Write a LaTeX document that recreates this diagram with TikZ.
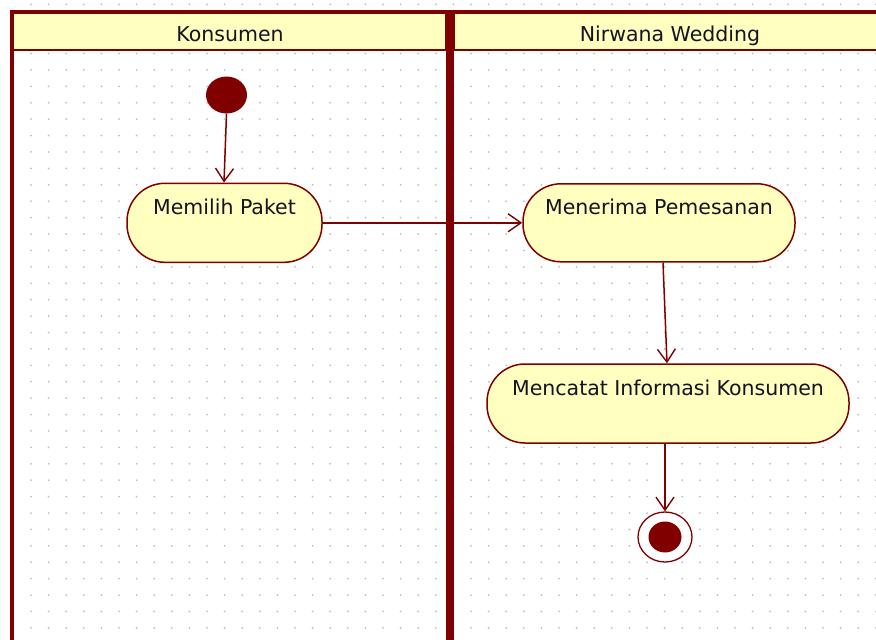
\documentclass[tikz,border=0pt]{standalone}
\usepackage{fontspec}
\setmainfont{DejaVu Sans}
\usetikzlibrary{arrows.meta,shapes.geometric}
\definecolor{lanered}{HTML}{800000}
\definecolor{actfill}{HTML}{FFFFC0}
\definecolor{dotgray}{HTML}{BDBDBD}
\definecolor{txt}{HTML}{141420}
\tikzset{
  x=1pt, y=-1pt,
  txtstyle/.style={font=\fontsize{20.5}{24}\selectfont, text=txt},
  act/.style={draw=lanered, line width=1.5pt, fill=actfill, rectangle, rounded corners=38pt, inner sep=0pt},
  lbl/.style={txtstyle, yshift=16pt},
  flow/.style={draw=lanered, line width=1.5pt, -{Straight Barb[length=13pt,width=18pt,line width=1.4pt]}},
  lanehead/.style={fill=actfill, draw=lanered, line width=1.5pt},
}
\begin{document}
\begin{tikzpicture}
\useasboundingbox (0,0) rectangle (876,640);
\fill[white] (0,0) rectangle (876,640);
% dot grid
\foreach \i in {0,...,48} {
  \foreach \j in {0,...,38} {
    \fill[dotgray] ({31+17.6*\i},{4.3+16.41*\j}) circle (1pt);
  }
}
% lane headers
\path[lanehead] (12,12) rectangle (446,50);
\path[lanehead] (454,12) rectangle (890,50);
\node[txtstyle, anchor=base] (h1) at (230,41) {Konsumen};
\node[txtstyle, anchor=base] (h2) at (670,41) {Nirwana Wedding};
% lane borders
\fill[lanered] (10,10) rectangle (14,650);
\fill[lanered] (10,10) rectangle (890,13.5);
\fill[lanered] (446,10) rectangle (454,650);
\draw[lanered, line width=2pt] (14,50) -- (446,50);
\draw[lanered, line width=2pt] (454,50) -- (890,50);
% initial node
\node[fill=lanered, ellipse, minimum width=41pt, minimum height=37pt, inner sep=0pt, draw=none] (start) at (226.5,95) {};
% activities
\node[act, minimum width=195pt, minimum height=79pt, label={[lbl]center:Memilih Paket}] (a1) at (224.5,222.8) {};
\node[act, minimum width=272pt, minimum height=78pt, label={[lbl]center:Menerima Pemesanan}] (a2) at (659,222.8) {};
\node[act, minimum width=362pt, minimum height=79pt, label={[lbl]center:Mencatat Informasi Konsumen}] (a3) at (668,403.5) {};
% final node
\node[draw=lanered, line width=1.3pt, fill=white, ellipse, minimum width=54pt, minimum height=50pt, inner sep=0pt] (endo) at (665,537) {};
\node[fill=lanered, ellipse, minimum width=33pt, minimum height=31pt, inner sep=0pt] (endi) at (endo.center) {};
% flows
\draw[flow] (start.south) -- ([xshift=-0.5pt]a1.north);
\draw[flow] (a1.east) -- (a2.west);
\draw[flow] ([xshift=4pt]a2.south) -- ([xshift=-1pt]a3.north);
\draw[flow] ([xshift=-3pt]a3.south) -- (endo.north);
\end{tikzpicture}
\end{document}
